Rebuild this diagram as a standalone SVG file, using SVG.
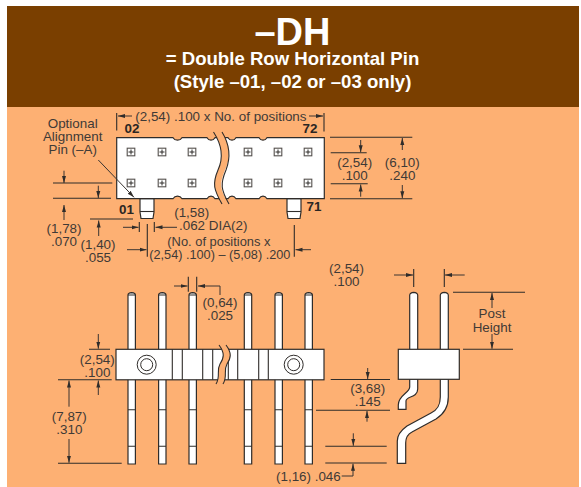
<svg xmlns="http://www.w3.org/2000/svg" width="581" height="487" viewBox="0 0 581 487">
<style>
text{font-family:"Liberation Sans",Arial,sans-serif;font-size:13.4px;fill:#3f3a36}
.m{text-anchor:middle}
.b{font-weight:700;fill:#2b2623}
.h{font-family:"Liberation Sans",Arial,sans-serif;font-weight:700;fill:#fff;text-anchor:middle}
.s{fill:#fff;stroke:#2f2c2a;stroke-width:1.2}
.l{fill:none;stroke:#2f2c2a;stroke-width:1.1}
.d{fill:none;stroke:#3a3532;stroke-width:1;marker-end:url(#a)}
.o{fill:#fdb073;stroke:none}
</style>
<defs>
<marker id="a" markerUnits="userSpaceOnUse" markerWidth="8" markerHeight="6" refX="7" refY="3" orient="auto"><path d="M0,1 L7,3 L0,5 Z" fill="#2f2c2a"/></marker>
<g id="pad"><rect x="-3.8" y="-3.8" width="7.6" height="7.6" fill="#fff" stroke="#55514e" stroke-width="1.1"/><path d="M-2.5,0H2.5M0,-2.5V2.5" stroke="#2f2c2a" stroke-width="1"/></g>
<g id="pin"><path class="s" d="M-3.7,464V295Q-3.7,293 0,292.7Q3.7,293 3.7,295V464Z"/><path class="l" d="M-3.7,295H3.7M-3.7,409.7H3.7M-3.7,446.3H3.7"/></g>
</defs>

<rect id="panel" x="7" y="6" width="572" height="481" fill="#fdb073"/>
<g id="header">
<rect x="7" y="6" width="572" height="101" fill="#7a3f00"/>
<text class="h" x="292.5" y="44.5" style="font-size:38px;fill:#fff">–DH</text>
<text class="h" x="292.5" y="65" style="font-size:18.6px;fill:#fff">= Double Row Horizontal Pin</text>
<text class="h" x="292.5" y="87.5" style="font-size:18.6px;fill:#fff">(Style –01, –02 or –03 only)</text>
</g>

<g id="top-view">
<path class="s" d="M140,198.7V212L141,218.5H153L154,212V198.7Z"/>
<path class="l" d="M140,211.5H154"/>
<path class="s" d="M287,198.7V212L288,218.5H300L301,212V198.7Z"/>
<path class="l" d="M287,211.5H301"/>
<path class="s" d="M116.7,137.7H173C175,141 180,141 182,137.7H207C209,141 213,141 215,137.7H228C230,141 234,141 236,137.7H259C261,141 265,141 267,137.7H324.3V198.7H267C265,195.4 261,195.4 259,198.7H236C234,195.4 230,195.4 228,198.7H215C213,195.4 209,195.4 207,198.7H182C180,195.4 175,195.4 173,198.7H116.7Z"/>
<path class="o" d="M213.5,132C222,145 224,157 218,170C212,184 214,190 222,204H229C220,190 219,184 225,170C231,157 230,145 222,132Z"/>
<path class="l" d="M213.5,132C222,145 224,157 218,170C212,184 214,190 222,204M222,132C230,145 231,157 226,170C220,184 221,190 229,204"/>
<use href="#pad" x="131" y="152"/><use href="#pad" x="162" y="152"/><use href="#pad" x="192" y="152"/>
<use href="#pad" x="248" y="152"/><use href="#pad" x="278" y="152"/><use href="#pad" x="308" y="152"/>
<use href="#pad" x="131" y="183"/><use href="#pad" x="162" y="183"/><use href="#pad" x="192" y="183"/>
<use href="#pad" x="248" y="183"/><use href="#pad" x="278" y="183"/><use href="#pad" x="308" y="183"/>
<text class="b" x="124.5" y="133">02</text>
<text class="b" x="302.5" y="133">72</text>
<text class="b" x="119" y="214">01</text>
<text class="b" x="306.5" y="211">71</text>
</g>

<g id="front-view">
<use href="#pin" x="131.7"/><use href="#pin" x="162.3"/><use href="#pin" x="192.7"/>
<use href="#pin" x="248"/><use href="#pin" x="278.7"/><use href="#pin" x="308.7"/>
<rect class="s" x="116" y="349.3" width="208" height="30.5"/>
<path class="l" d="M172.3,349.3V379.8M182.3,349.3V379.8M202.7,349.3V379.8M212.7,349.3V379.8M228.3,349.3V379.8M237.7,349.3V379.8M258.7,349.3V379.8M268.3,349.3V379.8"/>
<path class="o" d="M219,345C225,353 224,358 220,364C216,371 221,376 216,384H223C228,376 223,371 227,364C231,358 232,353 226,345Z"/>
<path class="l" d="M219,345C225,353 224,358 220,364C216,371 221,376 216,384M226,345C232,353 231,358 227,364C223,371 228,376 223,384"/>
<g fill="none" stroke="#2f2c2a" stroke-width="1"><circle cx="146.7" cy="364.7" r="9.5"/><circle cx="146.7" cy="364.7" r="6"/><circle cx="293.7" cy="364.7" r="9.5"/><circle cx="293.7" cy="364.7" r="6"/></g>
</g>

<g id="side-view">
<path class="s" d="M409.7,350V295Q410,292.5 413.7,292.3Q417.4,292.5 417.7,295V350Z"/>
<path class="s" d="M440.3,350V295Q440.6,292.5 444.3,292.3Q448,292.5 448.3,295V350Z"/>
<path class="s" d="M409.7,379V387C409.7,393 398.3,395 398.3,405V409.3H406V401C406,396 417.7,398 417.7,389V379Z"/>
<path class="s" d="M440.3,379V397C440.3,406 437,410 431,413L407,426C400,431 397.3,436 397.3,441V463.3H405.7V443C405.7,437 408,434 412,432L436,419C444,414 448.3,407 448.3,397V379Z"/>
<rect class="s" x="398.3" y="349.3" width="61" height="30"/>
</g>

<g id="connectors">
<path class="l" d="M116.7,113V130.5M324,113V131.5M53,183H112.3M53,198.3H111M90,219H133M139.3,222V232M154.3,222V232M147.3,224V256.7M294.3,225V256.7M330,137.3H412.3M330.7,152.7H366.7M330.7,183.7H367.7M330,198.7H412.3M89,349.3H110M58,379.7H111.7M58,463.3H121.7M188.3,276.7V291.7M196.7,276.7V291.7M330.7,379.5H390M316,410.3H390M325.3,446.3H386.7M325.3,463H386.7M413.7,269V287M444.3,269V287M453,292.3H525M463,349.3H513"/>
<path class="d" d="M132,116H118"/>
<path class="d" d="M309,116H323"/>
<path class="d" d="M98.3,160L134,197.3"/>
<path class="d" d="M64,170.7V183"/>
<path class="d" d="M98.3,185.7V198"/>
<path class="d" d="M64,220V205"/>
<path class="d" d="M98.7,236V220.5"/>
<path class="d" d="M123,227.3H138.5"/>
<path class="d" d="M177,227.3H155.5"/>
<path class="d" d="M127,249.7H146.5"/>
<path class="d" d="M311,249.7H295.5"/>
<path class="d" d="M360.7,140V152.2"/>
<path class="d" d="M360.7,196.7V184.5"/>
<path class="d" d="M402.3,150V138"/>
<path class="d" d="M402.3,185V198.2"/>
<path class="d" d="M174,286H187.5"/>
<path class="d" d="M220,295V286H198"/>
<path class="d" d="M98.3,334V348.7"/>
<path class="d" d="M98.3,395V380.5"/>
<path class="d" d="M69,406.7V380.5"/>
<path class="d" d="M69,439V462.8"/>
<path class="d" d="M367.7,368V379"/>
<path class="d" d="M367,421.7V411"/>
<path class="d" d="M353.3,433.3V445.8"/>
<path class="d" d="M341.7,476H353V463.7"/>
<path class="d" d="M394,275H413"/>
<path class="d" d="M464.7,275H445"/>
<path class="d" d="M492,308V293"/>
<path class="d" d="M492,334V348.8"/>
</g>

<g id="labels">
<text class="m" x="72.7" y="128">Optional</text>
<text class="m" x="72.7" y="140.7">Alignment</text>
<text class="m" x="72.7" y="153.7">Pin (–A)</text>
<text x="135.3" y="121.3">(2,54) .100 x No. of positions</text>
<text class="m" x="64" y="233">(1,78)</text>
<text class="m" x="64" y="245.7">.070</text>
<text class="m" x="98" y="249">(1,40)</text>
<text class="m" x="98" y="261.7">.055</text>
<text class="m" x="191.7" y="216.7">(1,58)</text>
<text x="179" y="230">.062 DIA(2)</text>
<text x="167.3" y="246" style="font-size:12.9px">(No. of positions x</text>
<text x="149.3" y="258.7" style="font-size:12.7px">(2,54) .100) – (5,08) .200</text>
<text class="m" x="354.7" y="166.7">(2,54)</text>
<text class="m" x="354.7" y="180">.100</text>
<text class="m" x="402.3" y="166.7">(6,10)</text>
<text class="m" x="402.3" y="180">.240</text>
<text class="m" x="346.5" y="272.5">(2,54)</text>
<text class="m" x="346.5" y="285.7">.100</text>
<text class="m" x="220" y="306.7">(0,64)</text>
<text class="m" x="220" y="320">.025</text>
<text class="m" x="97.3" y="364.3">(2,54)</text>
<text class="m" x="97.3" y="376.7">.100</text>
<text class="m" x="69.3" y="421">(7,87)</text>
<text class="m" x="69.3" y="434.3">.310</text>
<text class="m" x="367.7" y="393.3">(3,68)</text>
<text class="m" x="367.7" y="405.7">.145</text>
<text x="276" y="480.7">(1,16) .046</text>
<text class="m" x="492" y="318">Post</text>
<text class="m" x="492" y="331.5">Height</text>
</g>
</svg>
